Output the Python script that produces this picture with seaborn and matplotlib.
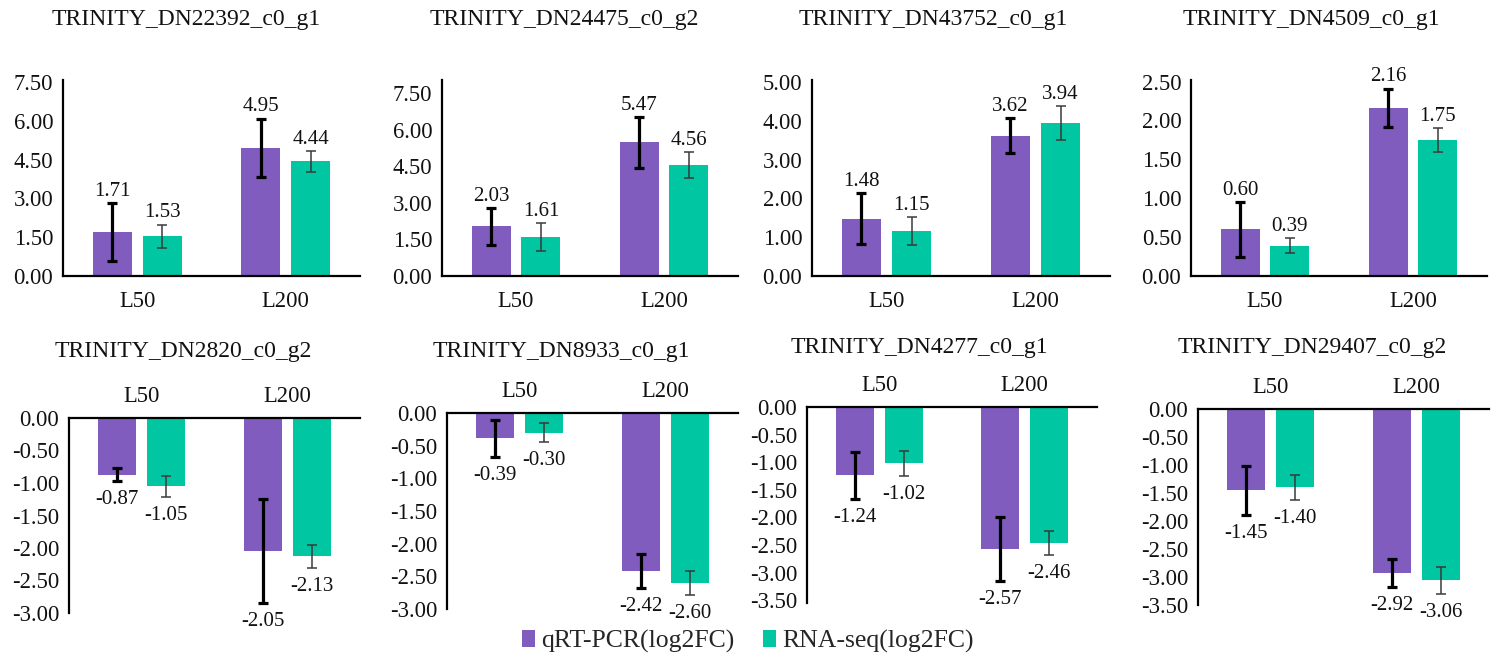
import matplotlib
matplotlib.use("Agg")
import matplotlib.pyplot as plt
from matplotlib.patches import Patch
from matplotlib.ticker import FormatStrFormatter
import numpy as np
import pandas as pd
import seaborn as sns

# ---------------- data ----------------
genes = ["TRINITY_DN22392_c0_g1", "TRINITY_DN24475_c0_g2", "TRINITY_DN43752_c0_g1",
         "TRINITY_DN4509_c0_g1", "TRINITY_DN2820_c0_g2", "TRINITY_DN8933_c0_g1",
         "TRINITY_DN4277_c0_g1", "TRINITY_DN29407_c0_g2"]
categories = ["L50", "L200"]
methods = ["qRT-PCR(log2FC)", "RNA-seq(log2FC)"]

qpcr = [[1.71, 4.95], [2.03, 5.47], [1.48, 3.62], [0.60, 2.16],
        [-0.87, -2.05], [-0.39, -2.42], [-1.24, -2.57], [-1.45, -2.92]]
rnaseq = [[1.53, 4.44], [1.61, 4.56], [1.15, 3.94], [0.39, 1.75],
          [-1.05, -2.13], [-0.30, -2.60], [-1.02, -2.46], [-1.40, -3.06]]
qpcr_err = [[1.12, 1.14], [0.76, 1.05], [0.66, 0.46], [0.35, 0.25],
            [0.10, 0.80], [0.29, 0.26], [0.42, 0.58], [0.44, 0.25]]
rnaseq_err = [[0.46, 0.41], [0.57, 0.53], [0.36, 0.44], [0.10, 0.15],
              [0.16, 0.17], [0.14, 0.18], [0.23, 0.22], [0.22, 0.24]]

y_limits = [(0, 7.58), (0, 8.03), (0, 5.05), (0, 2.52),
            (-3.0, 0), (-3.0, 0), (-3.55, 0), (-3.5, 0)]
y_ticks = [np.arange(0, 7.51, 1.5), np.arange(0, 7.51, 1.5), np.arange(0, 5.01, 1.0),
           np.arange(0, 2.51, 0.5), np.arange(-3.0, 0.01, 0.5), np.arange(-3.0, 0.01, 0.5),
           np.arange(-3.5, 0.01, 0.5), np.arange(-3.5, 0.01, 0.5)]

# ---------------- style ----------------
sns.set_style("white")
plt.rcParams["font.family"] = ["Liberation Serif", "DejaVu Serif"]
plt.rcParams["axes.unicode_minus"] = False

PURPLE = "#805cbf"
TEAL = "#00c6a1"

W, H = 1499, 659
fig = plt.figure(figsize=(W / 100, H / 100), dpi=100)
fig.patch.set_facecolor("white")

# axes boxes in pixels: left, right, top, bottom
boxes = [(63, 360, 80, 276), (442, 738, 80, 276), (812, 1110, 80, 276), (1191, 1487, 80, 276),
         (69, 360, 418, 613), (447, 738, 413, 609), (807, 1097, 407, 603), (1198, 1489, 409, 605)]
title_pos = [(186, 20), (564, 20), (933, 20), (1311, 20),
             (183, 352), (561, 352), (919, 348), (1312, 348)]

for i, gene in enumerate(genes):
    l, r, t, b = boxes[i]
    ax = fig.add_axes([l / W, 1 - b / H, (r - l) / W, (b - t) / H])
    df = pd.DataFrame({
        "category": categories * 2,
        "method": [methods[0]] * 2 + [methods[1]] * 2,
        "value": qpcr[i] + rnaseq[i],
    })
    sns.barplot(data=df, x="category", y="value", hue="method", order=categories,
                hue_order=methods, palette=[PURPLE, TEAL], saturation=1,
                width=0.672, gap=0.22, errorbar=None, legend=False, linewidth=0, ax=ax)

    errs = [qpcr_err[i], rnaseq_err[i]]
    vals = [qpcr[i], rnaseq[i]]
    estyles = [dict(ecolor="black", elinewidth=2.3, capsize=3.6, capthick=2.3),
               dict(ecolor="#3a3a3a", elinewidth=1.1, capsize=3.6, capthick=1.1)]
    for k, cont in enumerate(ax.containers[:2]):
        xs = [p.get_x() + p.get_width() / 2 for p in cont.patches]
        ax.errorbar(xs, vals[k], yerr=errs[k], fmt="none", zorder=3, **estyles[k])
        for x, v, e in zip(xs, vals[k], errs[k]):
            if v >= 0:
                ax.annotate(f"{v:.2f}", xy=(x, v + e), xytext=(0, 1.5),
                            textcoords="offset points", ha="center", va="bottom",
                            fontsize=15, color="#111111")
            else:
                ax.annotate(f"{v:.2f}", xy=(x, v - e), xytext=(0, -6.5),
                            textcoords="offset points", ha="center", va="top",
                            fontsize=15, color="#111111")

    ax.set_xlim(-0.5, 1.5)
    ax.set_ylim(*y_limits[i])
    ax.set_yticks(y_ticks[i])
    ax.yaxis.set_major_formatter(FormatStrFormatter("%.2f"))
    ax.set_xlabel("")
    ax.set_ylabel("")
    ax.set_facecolor("none")
    ax.tick_params(axis="both", length=0, labelsize=16.3, colors="#111111")
    ax.tick_params(axis="y", pad=7)
    ax.tick_params(axis="x", pad=11)
    for s in ax.spines.values():
        s.set_visible(False)
    ax.spines["left"].set_visible(True)
    ax.spines["left"].set_linewidth(1.6)
    ax.spines["left"].set_color("black")
    if i < 4:
        ax.spines["bottom"].set_visible(True)
        ax.spines["bottom"].set_linewidth(1.6)
        ax.spines["bottom"].set_color("black")
    else:
        ax.spines["top"].set_visible(True)
        ax.spines["top"].set_linewidth(1.6)
        ax.spines["top"].set_color("black")
        ax.xaxis.tick_top()
        ax.tick_params(axis="x", length=0, pad=8, labelsize=16.3)
    ax.grid(False)

    tx, ty = title_pos[i]
    fig.text(tx / W, 1 - ty / H, gene, ha="center", va="center", fontsize=17, color="#111111")

handles = [Patch(facecolor=PURPLE, edgecolor="none", label=methods[0]),
           Patch(facecolor=TEAL, edgecolor="none", label=methods[1])]
fig.legend(handles=handles, loc="center", bbox_to_anchor=(748 / W, 1 - 641 / H), ncol=2,
           frameon=False, fontsize=18.5, handlelength=0.5, handleheight=0.65,
           handletextpad=0.25, columnspacing=1.1, borderaxespad=0)

fig.savefig("out.png", dpi=100, facecolor="white")
